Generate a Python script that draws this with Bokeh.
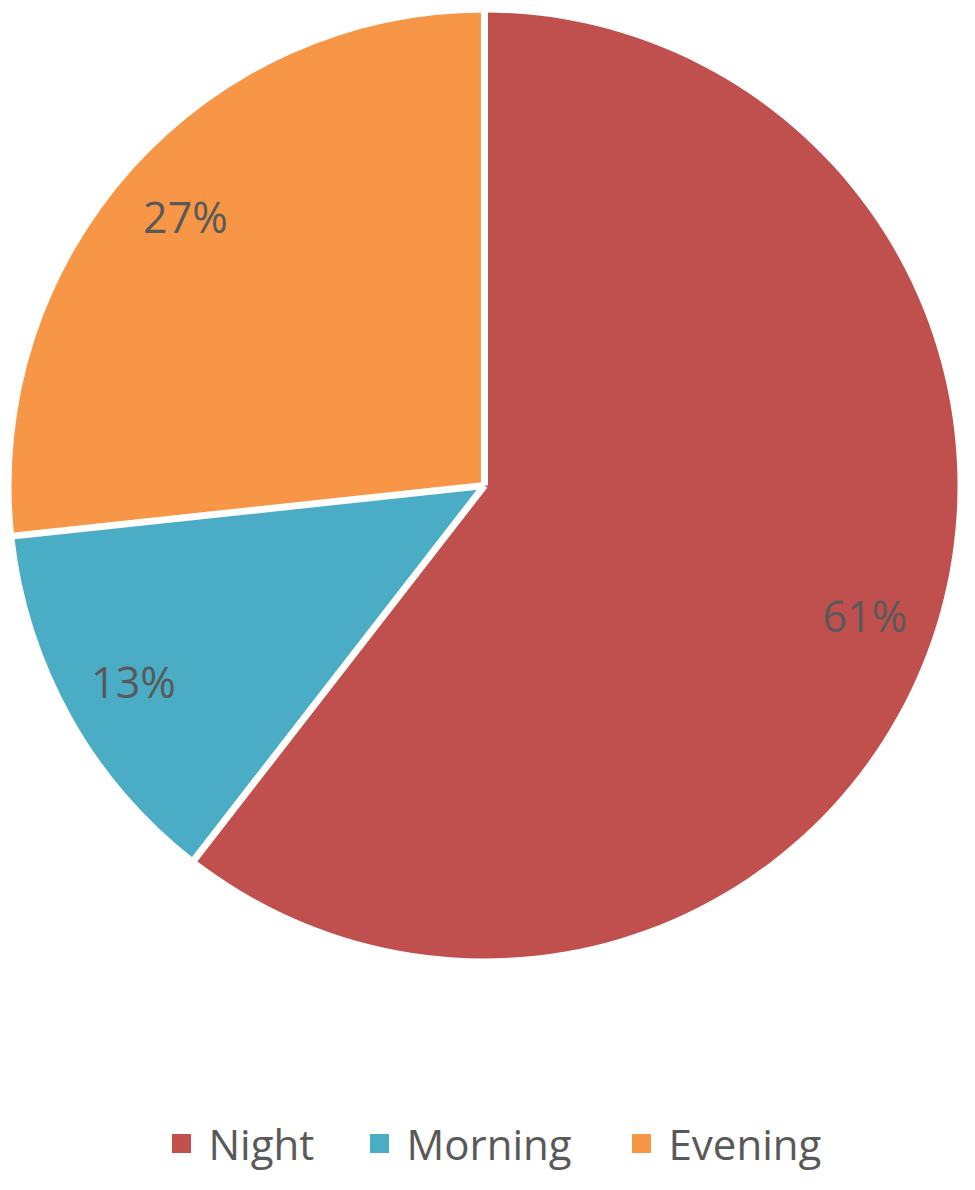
import math
from bokeh.plotting import figure
from bokeh.models import Range1d, ColumnDataSource
from bokeh.core.properties import value
from bokeh.embed import file_html
from bokeh.resources import INLINE

categories = ["Night", "Morning", "Evening"]
shares = [60.5, 12.8, 26.7]
labels = ["61%", "13%", "27%"]
colors = ["#C0504D", "#4BACC6", "#F79646"]

W, H = 959, 1174
cx, cy, R = 484, H - 485, 473

total = sum(shares)
starts, ends, lx, ly = [], [], [], []
acc = 0.0
for s in shares:
    a0 = math.pi / 2 - 2 * math.pi * acc / total
    acc += s
    a1 = math.pi / 2 - 2 * math.pi * acc / total
    starts.append(a0)
    ends.append(a1)
    mid = (a0 + a1) / 2
    lx.append(cx + 0.85 * R * math.cos(mid))
    ly.append(cy + 0.85 * R * math.sin(mid))

src = ColumnDataSource(dict(cat=categories, start=starts, end=ends, color=colors,
                            lx=lx, ly=ly, label=labels))

p = figure(width=W, height=H, output_backend="svg", toolbar_location=None,
           x_range=Range1d(0, W), y_range=Range1d(0, H), min_border=0)
p.axis.visible = False
p.grid.visible = False
p.outline_line_color = None
p.background_fill_color = "white"

p.wedge(x=cx, y=cy, radius=R, start_angle="start", end_angle="end",
        direction="clock", fill_color="color", line_color=None, source=src)
# white separators between slices
p.ray(x=cx, y=cy, length=R + 2, angle="start", line_color="white",
      line_width=7, source=src)

p.text(x="lx", y="ly", text="label", source=src, text_align="center",
       text_baseline="middle", text_font=value("Open Sans"),
       text_font_size="43px", text_color="#595959")

# manual legend (bottom)
leg_sq_x = [181, 379, 641]
leg_tx_x = [208, 406, 668]
leg_y = [H - 1143] * 3
lsrc = ColumnDataSource(dict(sx=leg_sq_x, tx=leg_tx_x, y=leg_y,
                             color=colors, cat=categories))
p.rect(x="sx", y="y", width=19, height=19, width_units="screen", height_units="screen",
       fill_color="color", line_color=None, source=lsrc)
p.text(x="tx", y="y", text="cat", source=lsrc, text_align="left",
       text_baseline="middle", text_font=value("Open Sans"),
       text_font_size="42px", text_color="#595959")

open("out.html", "w").write(file_html(p, INLINE))
